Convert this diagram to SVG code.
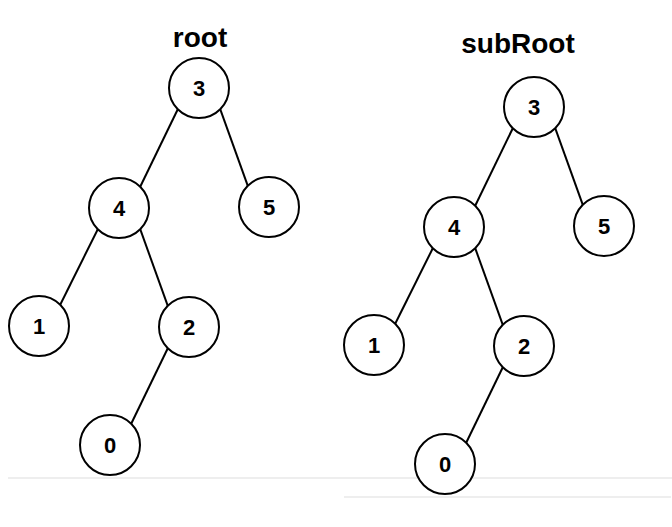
<svg xmlns="http://www.w3.org/2000/svg" width="672" height="527" viewBox="0 0 672 527">
<style>
.n circle{fill:#fff;stroke:#000;stroke-width:2}
.n text{font-family:"Liberation Sans",Arial,sans-serif;font-weight:bold;font-size:22px;fill:#000;text-anchor:middle}
.t{font-family:"Liberation Sans",Arial,sans-serif;font-weight:bold;font-size:28px;fill:#000;text-anchor:middle}
.e line{stroke:#000;stroke-width:2}
.g{stroke:#eeeeee;stroke-width:2}
</style>
<rect width="672" height="527" fill="#fff"/>
<line class="g" x1="8" y1="478" x2="672" y2="478"/>
<line class="g" x1="344" y1="497" x2="671" y2="497"/>
<text class="t" x="200" y="47">root</text>
<text class="t" x="518" y="53">subRoot</text>
<g id="connectors" class="e">
<line x1="177.8" y1="109.2" x2="140.2" y2="186.8"/>
<line x1="220.2" y1="109.2" x2="247.8" y2="185.8"/>
<line x1="97.8" y1="229.2" x2="60.2" y2="304.8"/>
<line x1="140.2" y1="229.2" x2="167.8" y2="305.8"/>
<line x1="167.8" y1="348.2" x2="131.2" y2="423.8"/>
<line x1="512.8" y1="128.2" x2="475.2" y2="205.8"/>
<line x1="555.2" y1="128.2" x2="582.8" y2="204.8"/>
<line x1="432.8" y1="248.2" x2="395.2" y2="323.8"/>
<line x1="475.2" y1="248.2" x2="502.8" y2="324.8"/>
<line x1="502.8" y1="367.2" x2="466.2" y2="442.8"/>
</g>
<g id="root-3" class="n"><circle cx="199" cy="88" r="30"/><text x="199" y="96">3</text></g>
<g id="root-4" class="n"><circle cx="119" cy="208" r="30"/><text x="119" y="216">4</text></g>
<g id="root-5" class="n"><circle cx="269" cy="207" r="30"/><text x="269" y="215">5</text></g>
<g id="root-1" class="n"><circle cx="39" cy="326" r="30"/><text x="39" y="334">1</text></g>
<g id="root-2" class="n"><circle cx="189" cy="327" r="30"/><text x="189" y="335">2</text></g>
<g id="root-0" class="n"><circle cx="110" cy="445" r="30"/><text x="110" y="453">0</text></g>
<g id="sub-3" class="n"><circle cx="534" cy="107" r="30"/><text x="534" y="115">3</text></g>
<g id="sub-4" class="n"><circle cx="454" cy="227" r="30"/><text x="454" y="235">4</text></g>
<g id="sub-5" class="n"><circle cx="604" cy="226" r="30"/><text x="604" y="234">5</text></g>
<g id="sub-1" class="n"><circle cx="374" cy="345" r="30"/><text x="374" y="353">1</text></g>
<g id="sub-2" class="n"><circle cx="524" cy="346" r="30"/><text x="524" y="354">2</text></g>
<g id="sub-0" class="n"><circle cx="445" cy="464" r="30"/><text x="445" y="472">0</text></g>
</svg>
